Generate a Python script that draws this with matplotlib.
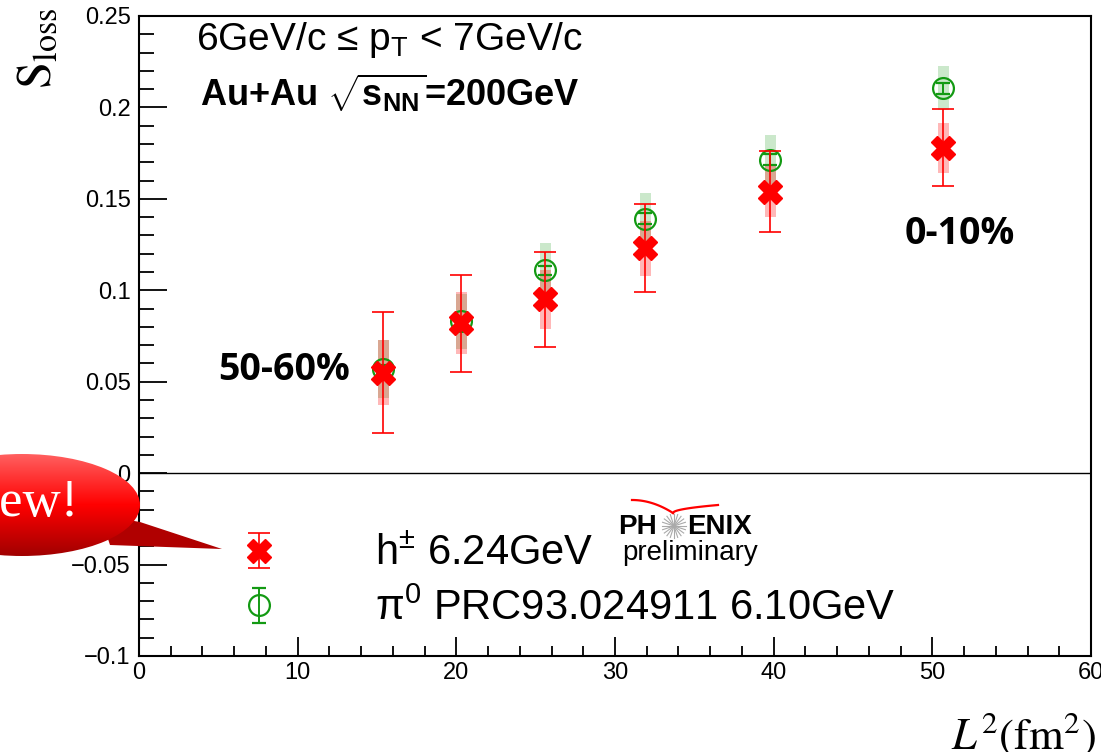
import numpy as np
import matplotlib
matplotlib.use("Agg")
import matplotlib.pyplot as plt
from matplotlib.patches import Ellipse, Polygon
from matplotlib.colors import LinearSegmentedColormap
from matplotlib.container import ErrorbarContainer
from matplotlib.legend_handler import HandlerErrorbar

plt.rcParams['font.family'] = ['Liberation Sans', 'DejaVu Sans']
plt.rcParams['mathtext.fontset'] = 'custom'
plt.rcParams['mathtext.rm'] = 'Liberation Sans'
plt.rcParams['mathtext.it'] = 'Liberation Sans:italic'
plt.rcParams['mathtext.bf'] = 'Liberation Sans:bold'

# L^2 (fm^2) per centrality bin, 50-60% ... 0-10%
L2 = [15.4, 20.3, 25.6, 31.9, 39.8, 50.7]

# h+- 6.24 GeV (PHENIX preliminary)
h_s = [0.055, 0.082, 0.095, 0.123, 0.154, 0.178]
h_stat = [0.033, 0.0265, 0.026, 0.024, 0.022, 0.021]
h_sys = [0.018, 0.017, 0.016, 0.015, 0.014, 0.0137]

# pi0 PRC93.024911 6.10 GeV
pi_s = [0.057, 0.083, 0.111, 0.139, 0.1715, 0.2105]
pi_stat = [0.002, 0.002, 0.0025, 0.003, 0.003, 0.003]
pi_sys = [0.016, 0.015, 0.015, 0.014, 0.0135, 0.012]

red = '#ff0000'
green = '#139a13'

fig = plt.figure(figsize=(11.01, 7.52), dpi=100)
ax = fig.add_axes([139/1101, 1-656/752, 952/1101, 640/752])

L2 = np.array(L2)
pi_s, pi_sys = np.array(pi_s), np.array(pi_sys)
h_s, h_sys = np.array(h_s), np.array(h_sys)

ax.bar(L2, 2*pi_sys, bottom=pi_s-pi_sys, width=0.7, color=green, alpha=0.22, lw=0, zorder=1)
ax.bar(L2, 2*h_sys, bottom=h_s-h_sys, width=0.7, color=red, alpha=0.28, lw=0, zorder=1)

eb_pi = ax.errorbar(L2, pi_s, yerr=pi_stat, fmt='o', mfc='none', mec=green, mew=1.6,
                    ms=15, color=green, elinewidth=1.4, capsize=5, capthick=1.4, zorder=3)
eb_h = ax.errorbar(L2, h_s, yerr=h_stat, fmt='X', mfc=red, mec=red, ms=17,
                   color=red, elinewidth=1.2, capsize=8, capthick=1.2, zorder=4)

ax.axhline(0, color='black', lw=1.0, zorder=2)

ax.set_xlim(0, 60)
ax.set_ylim(-0.1, 0.25)
ax.set_xticks(np.arange(0, 61, 10))
ax.set_xticks(np.arange(0, 61, 2), minor=True)
ax.set_yticks(np.arange(-0.1, 0.2501, 0.05))
ax.set_yticks(np.arange(-0.1, 0.2501, 0.01), minor=True)
ax.set_yticklabels(['\u22120.1', '\u22120.05', '0', '0.05', '0.1', '0.15', '0.2', '0.25'])
ax.tick_params(axis='both', which='both', direction='in', width=1.3, labelsize=17, color='black')
ax.tick_params(axis='y', which='major', length=20, pad=6)
ax.tick_params(axis='y', which='minor', length=11)
ax.tick_params(axis='x', which='major', length=14, pad=4)
ax.tick_params(axis='x', which='minor', length=7)
for s in ax.spines.values():
    s.set_linewidth(1.5)

ax.text(57/952, 1-(40-16)/640, '6GeV/c \u2264 p$_{\\mathrm{T}}$ < 7GeV/c', transform=ax.transAxes,
        fontsize=28, va='center', ha='left')
ax.text(61/952, 1-(93-16)/640, 'Au+Au $\\sqrt{\\mathbf{s_{NN}}}$=200GeV', transform=ax.transAxes,
        fontsize=26, fontweight='bold', va='center', ha='left')
ax.text(L2[0] - 2.1, h_s[0] + 0.0015, '50-60%', fontsize=27, fontweight='bold', family='Open Sans',
        ha='right', va='center')
ax.text(L2[-1] + 1.0, 0.131, '0-10%', fontsize=27, fontweight='bold', family='Open Sans',
        ha='center', va='center')

leg = ax.legend([eb_h, eb_pi], ['h$^{\\pm}$ 6.24GeV', '\u03c0$^{0}$ PRC93.024911 6.10GeV'],
                loc='upper left', bbox_to_anchor=(0.063, 0.2485), frameon=False, fontsize=30,
                handlelength=1.08, handletextpad=2.25, labelspacing=0.33,
                handler_map={ErrorbarContainer: HandlerErrorbar(yerr_size=0.42)})

# PHENIX preliminary logo
fig.text(618/1101, 1-527/752, 'PH', fontsize=20, fontweight='bold', va='center', ha='left')
fig.text(687/1101, 1-527/752, 'ENIX', fontsize=20, fontweight='bold', va='center', ha='left')
fig.text(690/1101, 1-553/752, 'preliminary', fontsize=20, va='center', ha='center')
ov = fig.add_axes([0, 0, 1, 1], facecolor='none')
ov.axis('off')
ang = np.linspace(0, np.pi, 10, endpoint=False)
for a in ang:
    ov.plot([674 - 12*np.cos(a), 674 + 12*np.cos(a)], [526 - 12*np.sin(a), 526 + 12*np.sin(a)],
            color='#aaaaaa', lw=0.8)
t = np.linspace(0, 1, 50)
ov.plot(632 + 41*t, 500 + 13*t**2, color=red, lw=1.6)
ov.plot(673 + 45*t, 513 - 8*np.sqrt(t), color=red, lw=1.6)

# "New!" callout
ell = Ellipse((22, 505), 236, 102, transform=ov.transData)
tail = Polygon([[100, 515], [140, 522], [222, 549], [110, 545]], closed=True,
               facecolor='#b00000', edgecolor='none', zorder=2)
ov.add_patch(tail)
grad = np.linspace(0, 1, 256).reshape(-1, 1)
cm = LinearSegmentedColormap.from_list('rr', ['#ff6060', '#ff0000', '#a00000'])
im = ov.imshow(grad, cmap=cm, extent=[-96, 140, 556, 454], aspect='auto', zorder=3)
im.set_clip_path(ell)
ov.set_xlim(0, 1101)
ov.set_ylim(752, 0)
ov.text(79, 516, 'New!', fontsize=38, color='white', family='Liberation Serif',
        ha='right', va='baseline', zorder=4)

fig.text(38/1101, 1-8/752, '$\\mathrm{S}_{\\mathrm{loss}}$', rotation=90, fontsize=35,
         math_fontfamily='stix', va='top', ha='center')
fig.text(951/1101, 1-749/752, '$L^2(\\mathrm{fm}^2)$', fontsize=32, math_fontfamily='stix',
         va='baseline', ha='left')

fig.savefig('out.png', dpi=100)
